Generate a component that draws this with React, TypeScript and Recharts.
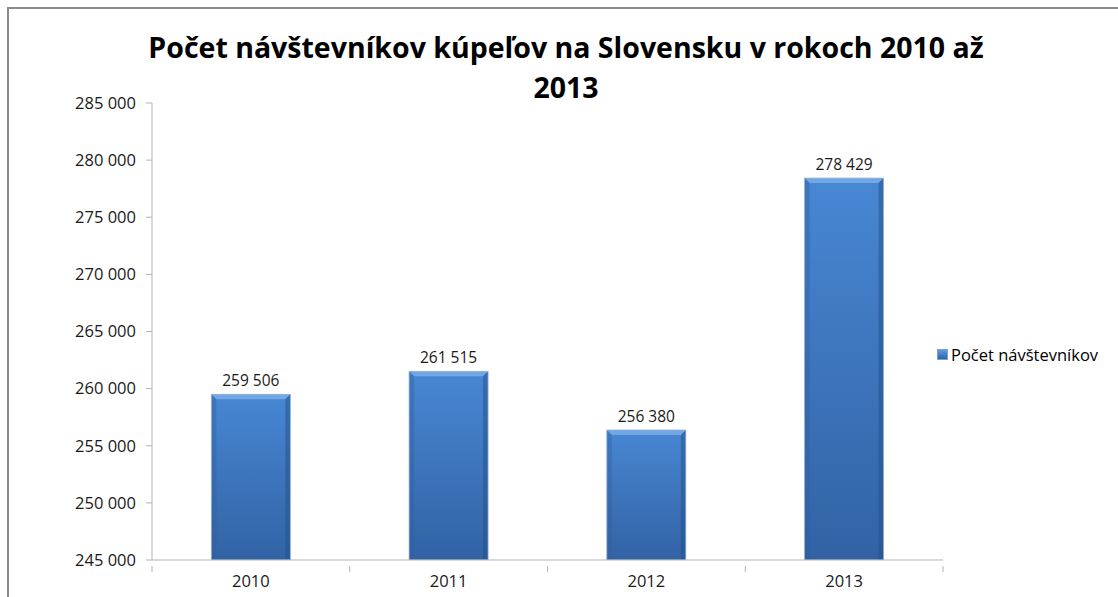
import { BarChart, Bar, XAxis, YAxis, LabelList } from "recharts";

const years = ["2010", "2011", "2012", "2013"];
const visitors = [259506, 261515, 256380, 278429];
const yTicks = [245000, 250000, 255000, 260000, 265000, 270000, 275000, 280000, 285000];

const seriesName = "Počet návštevníkov";
const title = "Počet návštevníkov kúpeľov na Slovensku v rokoch 2010 až 2013";

const data = years.map((year, i) => ({ year, visitors: visitors[i] }));

const fmt = (v: number) => String(v).replace(/\B(?=(\d{3})+(?!\d))/g, " ");

const FONT = "'Open Sans', 'Noto Sans', sans-serif";
const AXIS = "#b3b3b3";

// bar with a bevelled edge like the office chart style
const BevelBar = (props: any) => {
    const { x, y, width, height } = props;
    if (!height || height <= 0) return null;
    const b = 5;
    return (
        <g>
            <rect x={x} y={y} width={width} height={height} fill="url(#barFill)" />
            <polygon
                points={`${x},${y} ${x + width},${y} ${x + width - b},${y + b} ${x + b},${y + b}`}
                fill="#7fb3ea"
                opacity={0.75}
            />
            <polygon
                points={`${x},${y} ${x + b},${y + b} ${x + b},${y + height} ${x},${y + height}`}
                fill="#2f5f9e"
                opacity={0.4}
            />
            <polygon
                points={`${x + width},${y} ${x + width - b},${y + b} ${x + width - b},${y + height} ${x + width},${y + height}`}
                fill="#22508c"
                opacity={0.5}
            />
            <rect x={x} y={y} width={width} height={height} fill="none" stroke="#9cb4d0" strokeWidth={0.8} />
        </g>
    );
};

// category label plus tick marks on the category boundaries
const YearTick = (props: any) => {
    const { x, y, payload, index } = props;
    const half = payload && payload.offset ? payload.offset : 98.9;
    const axisY = y - 10;
    return (
        <g>
            <line x1={x - half} x2={x - half} y1={axisY} y2={axisY + 6} stroke={AXIS} />
            {index === years.length - 1 && (
                <line x1={x + half} x2={x + half} y1={axisY} y2={axisY + 6} stroke={AXIS} />
            )}
            <text x={x} y={y + 11} textAnchor="middle" fill="#1a1a1a" fontSize={16.5} fontFamily={FONT}>
                {payload.value}
            </text>
        </g>
    );
};

export default function App() {
    return (
        <div style={{ position: "absolute", left: 0, top: 0, width: 1118, height: 597, overflow: "hidden", background: "#fff", fontFamily: FONT }}>
            <div
                style={{
                    position: "absolute",
                    left: 7,
                    top: 7,
                    width: 1130,
                    height: 610,
                    border: "2px solid #8a8a8a",
                    boxSizing: "border-box",
                }}
            />
            <div
                style={{
                    position: "absolute",
                    left: 131,
                    top: 27,
                    width: 870,
                    textAlign: "center",
                    fontSize: 28.5,
                    fontWeight: 700,
                    lineHeight: "40px",
                    color: "#000",
                }}
            >
                {title}
            </div>
            <div style={{ position: "absolute", left: 937, top: 343, display: "flex", alignItems: "center", fontSize: 16.5, color: "#000", whiteSpace: "nowrap" }}>
                <span
                    style={{
                        display: "inline-block",
                        width: 9,
                        height: 9,
                        marginRight: 3,
                        background: "linear-gradient(#5d9ae0, #2d62a6)",
                        border: "1px solid #7da0c8",
                    }}
                />
                {seriesName}
            </div>
            <div style={{ position: "absolute", left: 0, top: 0 }}>
                <BarChart
                    width={1118}
                    height={597}
                    data={data}
                    barCategoryGap="30%"
                    margin={{ top: 103, right: 175, bottom: 7, left: 0 }}
                >
                    <defs>
                        <linearGradient id="barFill" x1="0" y1="0" x2="0" y2="1">
                            <stop offset="0%" stopColor="#4887d4" />
                            <stop offset="100%" stopColor="#3262a4" />
                        </linearGradient>
                    </defs>
                    <XAxis
                        dataKey="year"
                        stroke={AXIS}
                        height={30}
                        tickLine={false}
                        tick={<YearTick />}
                        tickMargin={10}
                    />
                    <YAxis
                        width={152}
                        domain={[245000, 285000]}
                        ticks={yTicks}
                        interval={0}
                        stroke={AXIS}
                        tickSize={6}
                        tickMargin={10}
                        tickFormatter={fmt}
                        tick={{ fill: "#1a1a1a", fontSize: 16.5, fontFamily: FONT }}
                        allowDataOverflow
                    />
                    <Bar dataKey="visitors" name={seriesName} shape={<BevelBar />} isAnimationActive={false}>
                        <LabelList
                            dataKey="visitors"
                            position="top"
                            offset={8}
                            formatter={(v: any) => fmt(Number(v))}
                            style={{ fill: "#1a1a1a", fontSize: 15.5, fontFamily: FONT }}
                        />
                    </Bar>
                </BarChart>
            </div>
        </div>
    );
}
